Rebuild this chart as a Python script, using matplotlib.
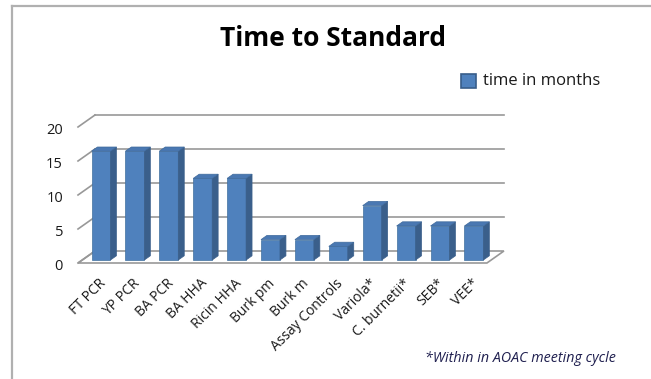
import matplotlib
matplotlib.use("Agg")
import matplotlib.pyplot as plt
from matplotlib.patches import Polygon
import numpy as np

categories = ["FT PCR", "YP PCR", "BA PCR", "BA HHA", "Ricin HHA", "Burk pm", "Burk m",
              "Assay Controls", "Variola*", "C. burnetii*", "SEB*", "VEE*"]
values = [16, 16, 16, 12, 12, 3, 3, 2, 8, 5, 5, 5]
yticks = [0, 5, 10, 15, 20]
title = "Time to Standard"
legend_label = "time in months"
footnote = "*Within in AOAC meeting cycle"

W, H = 651, 379
fig = plt.figure(figsize=(W / 100, H / 100), dpi=100)
ax = fig.add_axes([0, 0, 1, 1])
ax.set_axis_off()

# pixel <-> data mapping (category units and value units)
X0, XS = 96.75, 33.9      # px of category 0, px per category
Y0, YS = 263.0, 6.8       # px of value 0 (front), px per unit
ax.set_xlim((0 - X0) / XS, (W - X0) / XS)
ax.set_ylim((Y0 - H) / YS, (Y0 - 0) / YS)

DX = 17 / XS   # full-depth shift in data x
DY = 12 / YS   # full-depth shift in data y


def P(x, v, d):
    return (x + d * DX, v + d * DY)


def px2x(p):
    return (p - X0) / XS


grid_c = "#989898"
xl, xr = -0.553, 11.51
ymax = yticks[-1]

# floor
floor = Polygon([P(xl, 0, 0), P(xr, 0, 0), P(xr, 0, 1), P(xl, 0, 1)], closed=True,
                facecolor="white", edgecolor=grid_c, lw=1.2, zorder=1)
ax.add_patch(floor)
# back wall gridlines and left wall diagonals
for t in yticks:
    a, b = P(xl, t, 0), P(xl, t, 1)
    ax.plot([a[0], b[0]], [a[1], b[1]], color=grid_c, lw=1.2, zorder=1)
    c = P(xr, t, 1)
    if t > 0:
        ax.plot([b[0], c[0]], [b[1], c[1]], color=grid_c, lw=1.2, zorder=1)
    ax.text(px2x(63), t - 0.45, str(t), ha="right", va="center", fontsize=10.5,
            family="Open Sans", color="#1a1a1a")

# bars
front_c, side_c, top_c = "#4F81BD", "#3A5F8B", "#4A78B2"
bw = 0.56
d0, d1 = 0.25, 0.6
for i, v in enumerate(values):
    x1, x2 = i - bw / 2, i + bw / 2
    fb = P(x1, 0, d0)
    ax.bar(fb[0], v, width=bw, bottom=fb[1], align="edge", color=front_c,
           edgecolor="#41709f", lw=0.5, zorder=3)
    side = Polygon([P(x2, 0, d0), P(x2, 0, d1), P(x2, v, d1), P(x2, v, d0)],
                   closed=True, facecolor=side_c, edgecolor=side_c, lw=0.5, zorder=3)
    top = Polygon([P(x1, v, d0), P(x2, v, d0), P(x2, v, d1), P(x1, v, d1)],
                  closed=True, facecolor=top_c, edgecolor="#3f6a9c", lw=0.5, zorder=3)
    ax.add_patch(side)
    ax.add_patch(top)
    ax.text(i + 0.05, (Y0 - 276) / YS, categories[i], rotation=45, rotation_mode="anchor",
            ha="right", va="top", fontsize=10, family="Open Sans", color="#1a1a1a")

# title
ax.text(px2x(333), (Y0 - 38) / YS, title, ha="center", va="center", fontsize=19,
        fontweight="bold", family="Open Sans", color="black")

# legend
sq = Polygon([(px2x(461), (Y0 - 74) / YS), (px2x(476), (Y0 - 74) / YS),
              (px2x(476), (Y0 - 88) / YS), (px2x(461), (Y0 - 88) / YS)],
             closed=True, facecolor=front_c, edgecolor="#385D8A", lw=1.2)
ax.add_patch(sq)
ax.text(px2x(483), (Y0 - 81) / YS, legend_label, ha="left", va="center", fontsize=12,
        family="Open Sans", color="#1a1a1a")

# footnote
ax.text(px2x(616), (Y0 - 358) / YS, footnote, ha="right", va="center", fontsize=10.3,
        style="italic", family="Open Sans", color="#1f1f4f")

# frame lines (top and left)
fig.add_artist(plt.Line2D([12 / W, 1], [1 - 6 / H, 1 - 6 / H], color="#b0b0b0", lw=1.6))
fig.add_artist(plt.Line2D([12 / W, 12 / W], [0, 1 - 6 / H], color="#b0b0b0", lw=1.6))

fig.savefig("out.png", dpi=100)
